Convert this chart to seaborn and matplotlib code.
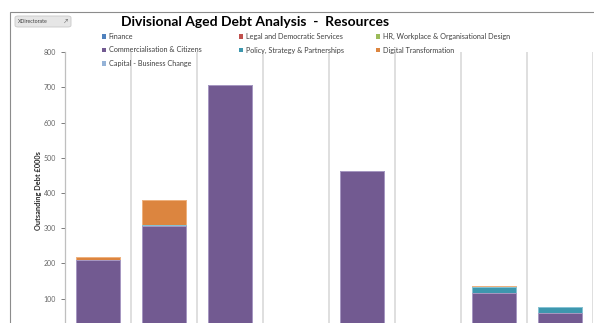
import pandas as pd
import seaborn as sns
import matplotlib.pyplot as plt
from matplotlib.patches import Patch, FancyBboxPatch, Rectangle

# Aged debt buckets (axis labels are cut off in the source screenshot)
categories = ["0-30", "31-60", "61-90", "91-120", "121-180", "181-270", "271-365", "365+"]

# Stacked series, bottom to top (£000s)
series_names = ["Finance", "Legal and Democratic Services", "HR, Workplace & Organisational Design",
                "Commercialisation & Citizens", "Policy, Strategy & Partnerships",
                "Digital Transformation", "Capital - Business Change"]
finance = [0, 0, 0, 0, 0, 0, 0, 0]
legal = [0, 0, 0, 0, 0, 0, 0, 0]
hr = [0, 0, 0, 0, 0, 0, 0, 0]
commercialisation = [210, 306, 707, 0, 464, 0, 117, 58]
policy = [0, 2, 0, 0, 0, 0, 16, 17]
digital = [8, 72, 0, 0, 0, 0, 3, 0]
capital = [0, 0, 0, 0, 0, 0, 0, 0]

colors = ["#4F81BD", "#C0504D", "#9BBB59", "#725A91", "#3D97AE", "#DC853F", "#95B3D7"]
edges = ["#8FAAD6", "#D88A88", "#BBD296", "#A898C2", "#86C4D6", "#F0B27E", "#C0D2E8"]

df = pd.DataFrame({"cat": categories, "Finance": finance, "Legal": legal, "HR": hr,
                   "Commercialisation": commercialisation, "Policy": policy,
                   "Digital": digital, "Capital": capital})
cols = ["Finance", "Legal", "HR", "Commercialisation", "Policy", "Digital", "Capital"]
cum = df[cols].cumsum(axis=1)

sns.set_style("white")
plt.rcParams['font.family'] = ['Lato', 'DejaVu Sans']

fig = plt.figure(figsize=(5.94, 3.23), dpi=100)
ax = fig.add_axes([65 / 594, -0.0337, 528 / 594, 0.872])

#Draw cumulative bars from top of the stack down so lower ones overlay
for i in reversed(range(len(cols))):
    sns.barplot(x=df["cat"], y=cum[cols[i]], color=colors[i], saturation=1,
                width=0.68, edgecolor=edges[i], linewidth=0.7, ax=ax)

ax.set_xlim(-0.5, len(categories) - 0.5)
ax.set_ylim(0, 800)
ax.set_yticks(range(100, 801, 100))
ax.tick_params(axis="y", labelsize=5, colors="#666666", length=3, width=0.6,
               direction="out", left=True)
ax.set_xticks([])
ax.set_xticks([x + 0.5 for x in range(len(categories))], minor=True)
ax.tick_params(axis="x", which="minor", length=0)
ax.grid(True, axis="x", which="minor", color="#D9D9D9", lw=1.2)
ax.set_axisbelow(True)
for s in ["top", "right", "bottom"]:
    ax.spines[s].set_visible(False)
ax.spines["left"].set_color("#BFBFBF")
ax.spines["left"].set_linewidth(0.9)
ax.set_xlabel("")
ax.set_ylabel("Outsanding Debt £000s", fontsize=5.3, fontweight="bold", color="#262626")
ax.yaxis.set_label_coords(-0.043, 0.51)

#Title
fig.text(255 / 594, 1 - 22 / 323, "Divisional Aged Debt Analysis  -  Resources",
         ha="center", va="center", fontsize=10, fontweight="bold", color="#000000")

#Legend laid out row by row like Excel, one legend per column
handles = [Patch(facecolor=c, edgecolor="none") for c in colors]
col_groups = [[0, 3, 6], [1, 4], [2, 5]]
col_x = [102, 239, 376]
for grp, x0 in zip(col_groups, col_x):
    leg = fig.legend([handles[k] for k in grp], [series_names[k] for k in grp],
                     loc="upper left", bbox_to_anchor=(x0 / 594, 1 - 33 / 323),
                     frameon=False, fontsize=5.2, handlelength=0.55, handleheight=0.55,
                     handletextpad=0.4, labelspacing=0.9, borderpad=0, borderaxespad=0)
    for t in leg.get_texts():
        t.set_color("#404040")

#Chart area border and the directorate filter button
fig.add_artist(Rectangle((10 / 594, -0.1), 1.2, 1 - 12 / 323 + 0.1, transform=fig.transFigure,
                         fill=False, edgecolor="#8C8C8C", lw=0.8))
fig.add_artist(FancyBboxPatch((15 / 594, 1 - 27 / 323), 56 / 594, 11 / 323,
                              boxstyle="round,pad=0,rounding_size=0.005",
                              transform=fig.transFigure, facecolor="#E6E6E6",
                              edgecolor="#C8C8C8", lw=0.6))
fig.text(18 / 594, 1 - 21.5 / 323, "XDirectorate", fontsize=3.8, color="#404040",
         ha="left", va="center")
fig.text(66 / 594, 1 - 21 / 323, "\u2197", fontsize=4, color="#606060",
         ha="center", va="center")

fig.savefig("out.png", dpi=100)
